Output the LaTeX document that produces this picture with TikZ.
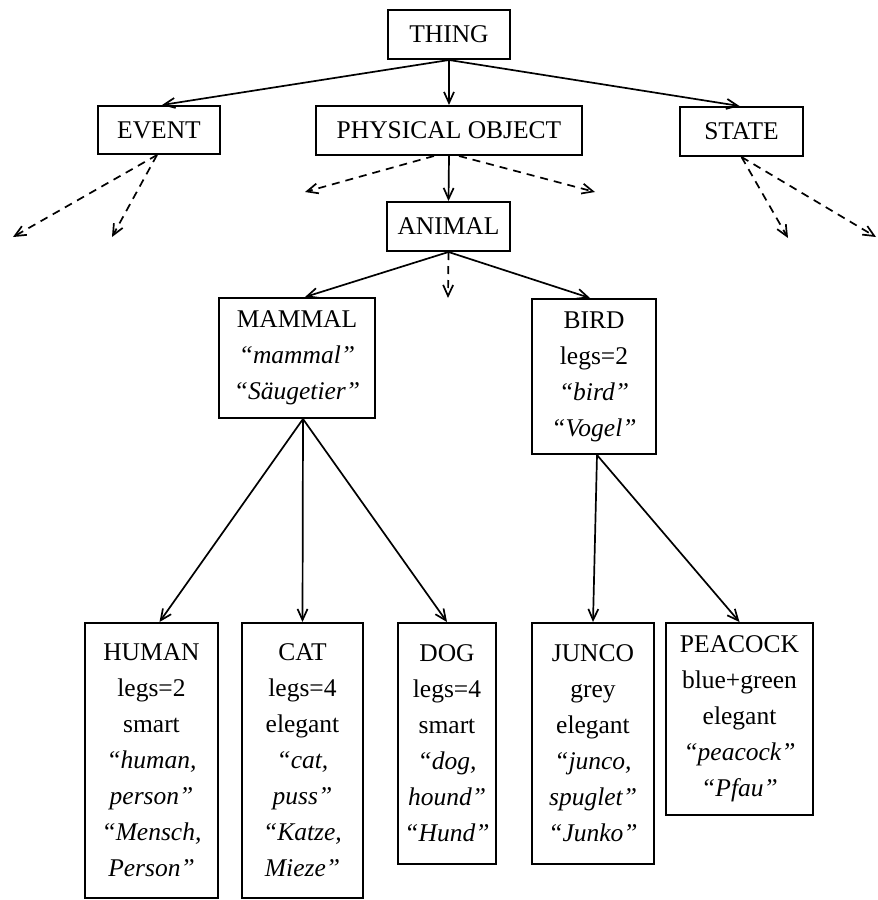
\documentclass[tikz,border=0pt]{standalone}
\usepackage{fontspec}
\setmainfont{Liberation Serif}
\usetikzlibrary{arrows.meta}

\begin{document}
\begin{tikzpicture}[x=1pt,y=-1pt]
      % Define styles for nodes
      \tikzstyle{concept} = [draw, rectangle, line width=2pt, inner sep=0pt,
      align=center, font=\fontsize{25.5}{36}\selectfont]
      \tikzstyle{isa} = [line width=1.7pt, -{Straight Barb[length=11pt,width=10pt,line width=1.7pt]}]
      \tikzstyle{more} = [isa, dash pattern=on 8pt off 6pt]

      \useasboundingbox (0,0) rectangle (878,900);

      % Top levels
      \node[concept, minimum width=122pt, minimum height=49pt] (thing) at (449,34.5) {THING};
      \node[concept, minimum width=122pt, minimum height=48pt] (event) at (159,130) {EVENT};
      \node[concept, minimum width=266pt, minimum height=49pt] (physobj) at (449,130.5) {PHYSICAL OBJECT};
      \node[concept, minimum width=123pt, minimum height=49pt] (state) at (741.5,131.5) {STATE};
      \node[concept, minimum width=123pt, minimum height=49pt] (animal) at (448.5,226.5) {ANIMAL};

      % Mammal and bird
      \node[concept, minimum width=156pt, minimum height=120pt] (mammal) at (297,358)
      {MAMMAL\\ \textit{``mammal''}\\ \textit{``Säugetier''}};
      \node[concept, minimum width=124pt, minimum height=155pt] (bird) at (594,376.5)
      {BIRD\\ legs=2\\ \textit{``bird''}\\ \textit{``Vogel''}};

      % Species at bottom
      \node[concept, minimum width=133pt, minimum height=275pt] (human) at (151.5,760.5)
      {HUMAN\\ legs=2\\ smart\\ \textit{``human,}\\ \textit{person''}\\ \textit{``Mensch,}\\ \textit{Person''}};
      \node[concept, minimum width=121pt, minimum height=275pt] (cat) at (302.5,760.5)
      {CAT\\ legs=4\\ elegant\\ \textit{``cat,}\\ \textit{puss''}\\ \textit{``Katze,}\\ \textit{Mieze''}};
      \node[concept, minimum width=98pt, minimum height=241pt] (dog) at (447,743.5)
      {DOG\\ legs=4\\ smart\\ \textit{``dog,}\\ \textit{hound''}\\ \textit{``Hund''}};
      \node[concept, minimum width=122pt, minimum height=241pt] (junco) at (593,743.5)
      {JUNCO\\ grey\\ elegant\\ \textit{``junco,}\\ \textit{spuglet''}\\ \textit{``Junko''}};
      \node[concept, minimum width=147pt, minimum height=192pt] (peacock) at (739.5,719)
      {PEACOCK\\ blue+green\\ elegant\\ \textit{``peacock''}\\ \textit{``Pfau''}};

      % Open ends of the dashed links
      \coordinate (ev1) at (13,237);
      \coordinate (ev2) at (112,237);
      \coordinate (po1) at (305,192);
      \coordinate (po2) at (595,192);
      \coordinate (st1) at (788,238);
      \coordinate (st2) at (876,237);
      \coordinate (an1) at (448,298);

      % Connections
      \draw[isa] (thing.south) -- ([xshift=3pt]event.north);
      \draw[isa] (thing.south) -- (physobj.north);
      \draw[isa] (thing.south) -- ([xshift=-2pt]state.north);
      \draw[isa] (physobj.south) -- (animal.north);
      \draw[isa] (animal.south) -- ([xshift=8pt]mammal.north);
      \draw[isa] (animal.south) -- ([xshift=-4pt]bird.north);

      \draw[isa] ([xshift=6pt]mammal.south) -- ([xshift=8pt]human.north);
      \draw[isa] ([xshift=6pt]mammal.south) -- (cat.north);
      \draw[isa] ([xshift=6pt]mammal.south) -- (dog.north);

      \draw[isa] ([xshift=3pt]bird.south) -- (junco.north);
      \draw[isa] ([xshift=3pt]bird.south) -- (peacock.north);

      % Dashed links
      \draw[more] ([xshift=-2pt]event.south) -- (ev1);
      \draw[more] ([xshift=-2pt]event.south) -- (ev2);
      \draw[more] ([xshift=-15pt]physobj.south) -- (po1);
      \draw[more] ([xshift=10pt]physobj.south) -- (po2);
      \draw[more] (state.south) -- (st1);
      \draw[more] (state.south) -- (st2);
      \draw[more] (animal.south) -- (an1);
\end{tikzpicture}
\end{document}
